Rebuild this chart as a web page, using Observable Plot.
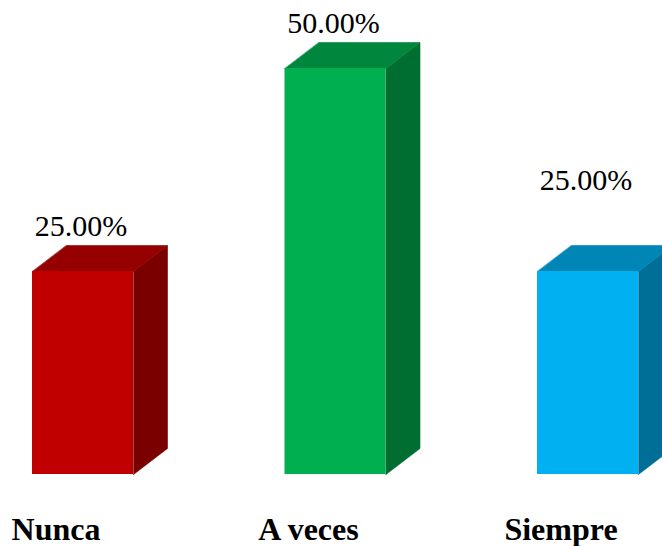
<!DOCTYPE html>
<html>
<head>
<meta charset="utf-8">
<script src="https://cdn.jsdelivr.net/npm/d3@7"></script>
<script src="https://cdn.jsdelivr.net/npm/@observablehq/plot@0.6"></script>
<style>
  html, body { margin: 0; padding: 0; background: #fff; overflow: hidden; }
  #chart { width: 662px; height: 546px; overflow: hidden; }
</style>
</head>
<body>
<div id="chart"></div>
<script>
// ---- data ----
const categories = ["Nunca", "A veces", "Siempre"];
const shares = [0.25, 0.50, 0.25];
const valueLabels = ["25.00%", "50.00%", "25.00%"];

// ---- styling ----
const frontColors = ["#C00000", "#00B050", "#00B0F0"];
const topColors   = ["#950000", "#00873D", "#0086B6"];
const sideColors  = ["#7A0000", "#006E31", "#006F98"];
const W = 662, H = 546;
const STEP_PX = 252.5;            // px per category index
const PX_PER_UNIT = 812;          // px per unit of share
const HW = 50.5 / STEP_PX;        // half width of front face (index units)
const DDX = 34 / STEP_PX;         // depth offset in x
const DDY = 26 / PX_PER_UNIT;     // depth offset in y
const serif = "Liberation Serif, Times New Roman, Times, serif";

const rows = categories.map((c, i) => ({i, c, v: shares[i], label: valueLabels[i]}));

const sidePts = rows.flatMap(r => [
  {c: r.c, x: r.i + HW,       y: 0,          col: sideColors[r.i]},
  {c: r.c, x: r.i + HW + DDX, y: DDY,        col: sideColors[r.i]},
  {c: r.c, x: r.i + HW + DDX, y: r.v + DDY,  col: sideColors[r.i]},
  {c: r.c, x: r.i + HW,       y: r.v,        col: sideColors[r.i]}
]);
const topPts = rows.flatMap(r => [
  {c: r.c, x: r.i - HW,       y: r.v,        col: topColors[r.i]},
  {c: r.c, x: r.i + HW,       y: r.v,        col: topColors[r.i]},
  {c: r.c, x: r.i + HW + DDX, y: r.v + DDY,  col: topColors[r.i]},
  {c: r.c, x: r.i - HW + DDX, y: r.v + DDY,  col: topColors[r.i]}
]);

const chart = Plot.plot({
  width: W,
  height: H,
  marginTop: 0,
  marginRight: 0,
  marginBottom: 72,
  marginLeft: 0,
  style: {fontFamily: serif, background: "white", overflow: "hidden"},
  x: {domain: [0, 2], range: [82.5, 587.5], axis: null},
  y: {domain: [0, 0.5], range: [474, 68], axis: null},
  color: {type: "identity"},
  marks: [
    Plot.line(sidePts, {x: "x", y: "y", z: "c", fill: "col", stroke: "col", strokeWidth: 0.6, curve: "linear-closed"}),
    Plot.line(topPts, {x: "x", y: "y", z: "c", fill: "col", stroke: "col", strokeWidth: 0.6, curve: "linear-closed"}),
    Plot.rect(rows, {x1: d => d.i - HW, x2: d => d.i + HW, y1: 0, y2: "v", fill: d => frontColors[d.i]}),
    Plot.text(rows.filter(r => r.c !== "Siempre"), {x: "i", y: "v", text: "label", dx: -2, dy: -36, lineAnchor: "bottom", fontSize: 30, fill: "black", fontFamily: serif}),
    Plot.text(rows.filter(r => r.c === "Siempre"), {x: "i", y: "v", text: "label", dx: -2, dy: -82, lineAnchor: "bottom", fontSize: 30, fill: "black", fontFamily: serif}),
    Plot.text(rows, {x: "i", frameAnchor: "bottom", text: "c", dx: -27, dy: 65, lineAnchor: "bottom", fontSize: 32, fontWeight: "bold", fill: "black", fontFamily: serif})
  ]
});
document.getElementById("chart").appendChild(chart);
</script>
</body>
</html>
